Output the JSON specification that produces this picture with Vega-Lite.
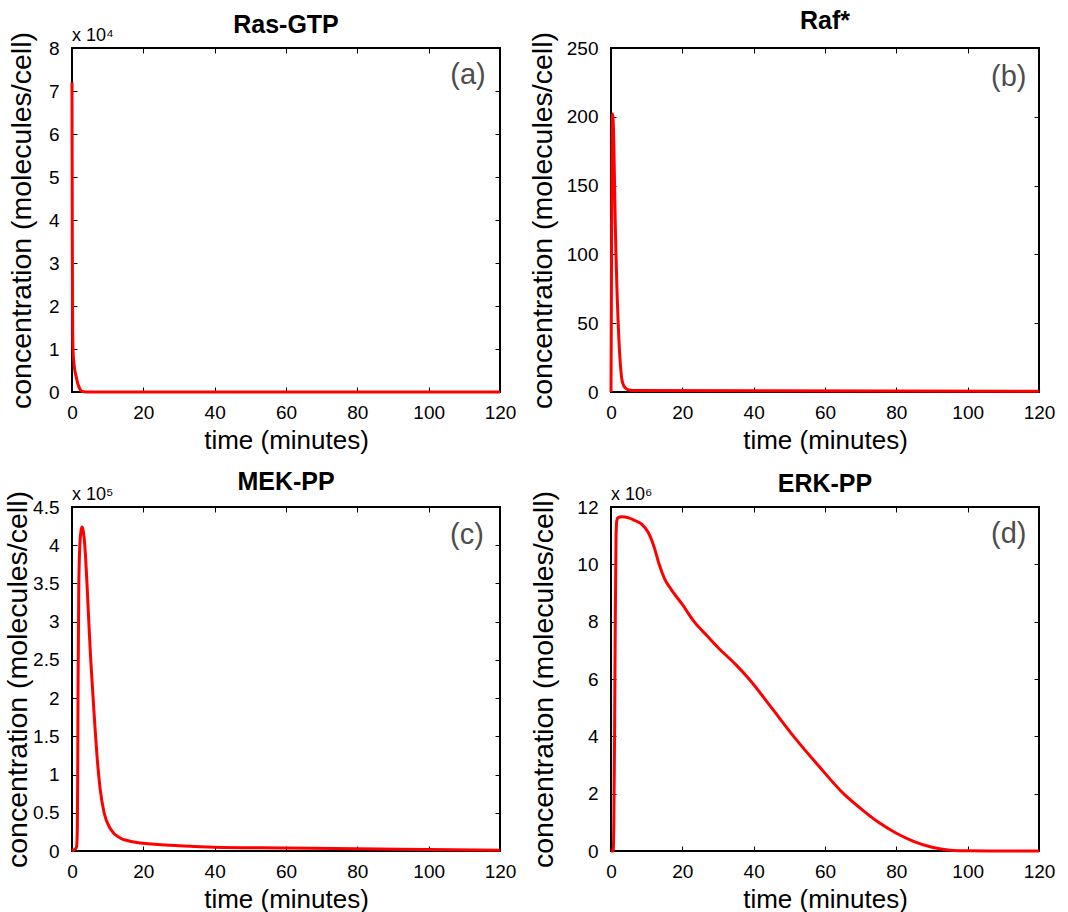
{
  "$schema": "https://vega.github.io/schema/vega-lite/v6.json",
  "columns": 2,
  "bounds": "flush",
  "spacing": {"row": 115, "column": 111},
  "padding": {"left": 2, "top": 7, "right": 5, "bottom": 0},
  "config": {
    "font": "Liberation Sans",
    "view": {"stroke": "black", "strokeWidth": 2},
    "axis": {
      "domain": false, "grid": false, "tickColor": "black", "tickSize": -5, "tickWidth": 1,
      "labelFont": "Liberation Sans", "labelFontSize": 19, "labelColor": "black",
      "labelFlush": false, "labelOverlap": false,
      "titleFont": "Liberation Sans", "titleFontWeight": "normal", "titleColor": "black"
    },
    "axisX": {"labelPadding": 16, "titleFontSize": 26, "titlePadding": 5},
    "axisY": {"labelPadding": 18, "titleFontSize": 28.5, "titlePadding": 8},
    "title": {"font": "Liberation Sans", "fontSize": 25, "fontWeight": "bold", "color": "black"},
    "text": {"font": "Liberation Sans"}
  },
  "concat": [
    {
      "title": {"text": "Ras-GTP", "offset": -11},
      "width": 428, "height": 344,
      "data": {"values": [
        {"t": 0, "v": 72000}, {"t": 0.05, "v": 50000}, {"t": 0.1, "v": 32000}, {"t": 0.15, "v": 21000},
        {"t": 0.2, "v": 14000}, {"t": 0.3, "v": 9500}, {"t": 0.5, "v": 7000}, {"t": 0.8, "v": 5000},
        {"t": 1.2, "v": 3500}, {"t": 1.6, "v": 2000}, {"t": 1.9, "v": 1300}, {"t": 2.2, "v": 700},
        {"t": 2.5, "v": 300}, {"t": 3, "v": 100}, {"t": 4, "v": 20}, {"t": 6, "v": 0}, {"t": 120, "v": 0}
      ]},
      "resolve": {"axis": {"x": "independent", "y": "independent"}},
      "layer": [
        {
          "mark": {"type": "line", "color": "#ff0000", "strokeWidth": 3, "interpolate": "monotone"},
          "encoding": {
            "x": {"field": "t", "type": "quantitative", "scale": {"domain": [0, 120], "nice": false},
                  "axis": {"values": [0, 20, 40, 60, 80, 100, 120]}, "title": "time (minutes)"},
            "y": {"field": "v", "type": "quantitative", "scale": {"domain": [0, 80000], "nice": false},
                  "axis": {"values": [0, 10000, 20000, 30000, 40000, 50000, 60000, 70000, 80000], "labelExpr": "datum.value / 10000", "titlePadding": 12},
                  "title": "concentration (molecules/cell)"}
          }
        },
        {
          "data": {"values": [{"label": "(a)"}]},
          "mark": {"type": "text", "align": "right", "baseline": "middle", "fontSize": 29, "color": "#4d4d4d"},
          "encoding": {
            "x": {"datum": 116, "type": "quantitative", "axis": {"orient": "top", "labels": false, "title": null, "values": [0, 20, 40, 60, 80, 100, 120]}},
            "y": {"datum": 73700, "type": "quantitative", "axis": {"orient": "right", "labels": false, "title": null, "values": [0, 10000, 20000, 30000, 40000, 50000, 60000, 70000, 80000]}},
            "text": {"field": "label"}
          }
        },
        {
          "data": {"values": [{"label": "x 10⁴"}]},
          "mark": {"type": "text", "align": "left", "baseline": "alphabetic", "fontSize": 18, "dy": -7, "color": "black"},
          "encoding": {
            "x": {"datum": 0, "type": "quantitative", "axis": null},
            "y": {"datum": 80000, "type": "quantitative", "axis": null},
            "text": {"field": "label"}
          }
        }
      ]
    },
    {
      "title": {"text": "Raf*", "offset": -2},
      "width": 428, "height": 344,
      "data": {"values": [
        {"t": 0, "v": 0}, {"t": 0.1, "v": 60}, {"t": 0.2, "v": 130}, {"t": 0.3, "v": 180}, {"t": 0.45, "v": 202},
        {"t": 0.6, "v": 198}, {"t": 0.8, "v": 180}, {"t": 1.0, "v": 150}, {"t": 1.2, "v": 122}, {"t": 1.4, "v": 100},
        {"t": 1.7, "v": 72}, {"t": 2.0, "v": 51}, {"t": 2.5, "v": 25}, {"t": 3.0, "v": 10}, {"t": 3.5, "v": 5},
        {"t": 4, "v": 3}, {"t": 5, "v": 1.5}, {"t": 7, "v": 1}, {"t": 120, "v": 0.5}
      ]},
      "resolve": {"axis": {"x": "independent", "y": "independent"}},
      "layer": [
        {
          "mark": {"type": "line", "color": "#ff0000", "strokeWidth": 3, "interpolate": "monotone"},
          "encoding": {
            "x": {"field": "t", "type": "quantitative", "scale": {"domain": [0, 120], "nice": false},
                  "axis": {"values": [0, 20, 40, 60, 80, 100, 120]}, "title": "time (minutes)"},
            "y": {"field": "v", "type": "quantitative", "scale": {"domain": [0, 250], "nice": false},
                  "axis": {"values": [0, 50, 100, 150, 200, 250], "titlePadding": 9},
                  "title": "concentration (molecules/cell)"}
          }
        },
        {
          "data": {"values": [{"label": "(b)"}]},
          "mark": {"type": "text", "align": "right", "baseline": "middle", "fontSize": 29, "color": "#4d4d4d"},
          "encoding": {
            "x": {"datum": 116.5, "type": "quantitative", "axis": {"orient": "top", "labels": false, "title": null, "values": [0, 20, 40, 60, 80, 100, 120]}},
            "y": {"datum": 229, "type": "quantitative", "axis": {"orient": "right", "labels": false, "title": null, "values": [0, 50, 100, 150, 200, 250]}},
            "text": {"field": "label"}
          }
        }
      ]
    },
    {
      "title": {"text": "MEK-PP", "offset": -9},
      "width": 428, "height": 344,
      "data": {"values": [
        {"t": 0, "v": 0}, {"t": 0.5, "v": 1500}, {"t": 1.0, "v": 3000}, {"t": 1.3, "v": 6000}, {"t": 1.5, "v": 30000},
        {"t": 1.6, "v": 100000}, {"t": 1.7, "v": 213000}, {"t": 1.9, "v": 345000}, {"t": 2.2, "v": 400000},
        {"t": 2.5, "v": 418000}, {"t": 2.8, "v": 424000}, {"t": 3.1, "v": 420000}, {"t": 3.4, "v": 410000},
        {"t": 3.8, "v": 385000}, {"t": 4.2, "v": 350000}, {"t": 4.7, "v": 301000}, {"t": 5.2, "v": 255000},
        {"t": 5.75, "v": 213000}, {"t": 6.4, "v": 165000}, {"t": 7.0, "v": 125000},
        {"t": 7.9, "v": 81000}, {"t": 9.0, "v": 50000}, {"t": 10.9, "v": 28000}, {"t": 13.5, "v": 17000},
        {"t": 16, "v": 13000}, {"t": 20, "v": 10000}, {"t": 30, "v": 7000}, {"t": 40, "v": 5000},
        {"t": 60, "v": 4000}, {"t": 80, "v": 3000}, {"t": 100, "v": 2000}, {"t": 120, "v": 1000}
      ]},
      "resolve": {"axis": {"x": "independent", "y": "independent"}},
      "layer": [
        {
          "mark": {"type": "line", "color": "#ff0000", "strokeWidth": 3, "interpolate": "monotone"},
          "encoding": {
            "x": {"field": "t", "type": "quantitative", "scale": {"domain": [0, 120], "nice": false},
                  "axis": {"values": [0, 20, 40, 60, 80, 100, 120]}, "title": "time (minutes)"},
            "y": {"field": "v", "type": "quantitative", "scale": {"domain": [0, 450000], "nice": false},
                  "axis": {"values": [0, 50000, 100000, 150000, 200000, 250000, 300000, 350000, 400000, 450000], "labelExpr": "datum.value / 100000", "titlePadding": 0},
                  "title": "concentration (molecules/cell)"}
          }
        },
        {
          "data": {"values": [{"label": "(c)"}]},
          "mark": {"type": "text", "align": "right", "baseline": "middle", "fontSize": 29, "color": "#4d4d4d"},
          "encoding": {
            "x": {"datum": 115.5, "type": "quantitative", "axis": {"orient": "top", "labels": false, "title": null, "values": [0, 20, 40, 60, 80, 100, 120]}},
            "y": {"datum": 413000, "type": "quantitative", "axis": {"orient": "right", "labels": false, "title": null, "values": [0, 50000, 100000, 150000, 200000, 250000, 300000, 350000, 400000, 450000]}},
            "text": {"field": "label"}
          }
        },
        {
          "data": {"values": [{"label": "x 10⁵"}]},
          "mark": {"type": "text", "align": "left", "baseline": "alphabetic", "fontSize": 18, "dy": -7, "color": "black"},
          "encoding": {
            "x": {"datum": 0, "type": "quantitative", "axis": null},
            "y": {"datum": 450000, "type": "quantitative", "axis": null},
            "text": {"field": "label"}
          }
        }
      ]
    },
    {
      "title": {"text": "ERK-PP", "offset": -11},
      "width": 428, "height": 344,
      "data": {"values": [
        {"t": 0, "v": 0}, {"t": 0.6, "v": 0}, {"t": 0.8, "v": 1000000}, {"t": 1.0, "v": 4000000}, {"t": 1.2, "v": 8000000},
        {"t": 1.4, "v": 10800000}, {"t": 1.6, "v": 11500000}, {"t": 1.9, "v": 11620000}, {"t": 3, "v": 11660000},
        {"t": 5, "v": 11620000}, {"t": 6.3, "v": 11550000}, {"t": 8.6, "v": 11400000}, {"t": 10.5, "v": 11100000},
        {"t": 12.1, "v": 10600000}, {"t": 13.5, "v": 10000000}, {"t": 15, "v": 9500000}, {"t": 17, "v": 9100000},
        {"t": 20, "v": 8600000}, {"t": 23.3, "v": 8000000}, {"t": 27, "v": 7500000}, {"t": 30, "v": 7100000},
        {"t": 35, "v": 6500000}, {"t": 38.7, "v": 6000000}, {"t": 45, "v": 5000000}, {"t": 51.2, "v": 4000000},
        {"t": 58, "v": 3000000}, {"t": 65.2, "v": 2000000}, {"t": 70.8, "v": 1400000}, {"t": 75, "v": 1000000},
        {"t": 80, "v": 620000}, {"t": 85, "v": 330000}, {"t": 90, "v": 130000}, {"t": 95, "v": 30000},
        {"t": 100, "v": 5000}, {"t": 110, "v": 0}, {"t": 120, "v": 0}
      ]},
      "resolve": {"axis": {"x": "independent", "y": "independent"}},
      "layer": [
        {
          "mark": {"type": "line", "color": "#ff0000", "strokeWidth": 3, "interpolate": "monotone"},
          "encoding": {
            "x": {"field": "t", "type": "quantitative", "scale": {"domain": [0, 120], "nice": false},
                  "axis": {"values": [0, 20, 40, 60, 80, 100, 120]}, "title": "time (minutes)"},
            "y": {"field": "v", "type": "quantitative", "scale": {"domain": [0, 12000000], "nice": false},
                  "axis": {"values": [0, 2000000, 4000000, 6000000, 8000000, 10000000, 12000000], "labelExpr": "datum.value / 1000000", "titlePadding": 18},
                  "title": "concentration (molecules/cell)"}
          }
        },
        {
          "data": {"values": [{"label": "(d)"}]},
          "mark": {"type": "text", "align": "right", "baseline": "middle", "fontSize": 29, "color": "#4d4d4d"},
          "encoding": {
            "x": {"datum": 116.5, "type": "quantitative", "axis": {"orient": "top", "labels": false, "title": null, "values": [0, 20, 40, 60, 80, 100, 120]}},
            "y": {"datum": 11060000, "type": "quantitative", "axis": {"orient": "right", "labels": false, "title": null, "values": [0, 2000000, 4000000, 6000000, 8000000, 10000000, 12000000]}},
            "text": {"field": "label"}
          }
        },
        {
          "data": {"values": [{"label": "x 10⁶"}]},
          "mark": {"type": "text", "align": "left", "baseline": "alphabetic", "fontSize": 18, "dy": -7, "color": "black"},
          "encoding": {
            "x": {"datum": 0, "type": "quantitative", "axis": null},
            "y": {"datum": 12000000, "type": "quantitative", "axis": null},
            "text": {"field": "label"}
          }
        }
      ]
    }
  ]
}
